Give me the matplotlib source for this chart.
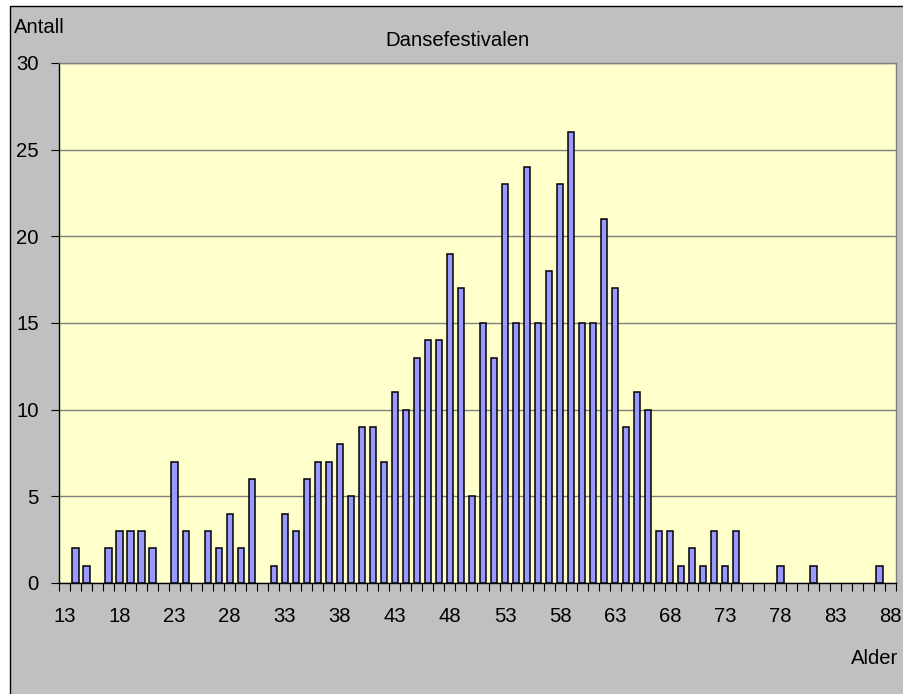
"""Dansefestivalen: antall deltakere per alder (Excel-style column chart)."""

import matplotlib

matplotlib.use("Agg")
import matplotlib.pyplot as plt  # noqa: E402
from matplotlib.patches import Rectangle  # noqa: E402
from matplotlib.ticker import FixedLocator  # noqa: E402

ages = list(range(13, 89))
counts = [
    0, 2, 1, 0, 2, 3, 3, 3, 2, 0,      # 13-22
    7, 3, 0, 3, 2, 4, 2, 6, 0, 1,      # 23-32
    4, 3, 6, 7, 7, 8, 5, 9, 9, 7,      # 33-42
    11, 10, 13, 14, 14, 19, 17, 5, 15, 13,  # 43-52
    23, 15, 24, 15, 18, 23, 26, 15, 15, 21,  # 53-62
    17, 9, 11, 10, 3, 3, 1, 2, 1, 3,   # 63-72
    1, 3, 0, 0, 0, 1, 0, 0, 1, 0,      # 73-82
    0, 0, 0, 0, 1, 0,                  # 83-88
]
label_ages = [13, 18, 23, 28, 33, 38, 43, 48, 53, 58, 63, 68, 73, 78, 83, 88]
y_ticks = [0, 5, 10, 15, 20, 25, 30]

W, H = 904, 694
FS = 14.6

plt.rcParams["font.family"] = ["Liberation Sans", "DejaVu Sans"]

fig = plt.figure(figsize=(W / 100, H / 100), dpi=100, facecolor="white")

# chart area frame (cut off at right and bottom like the source image)
fig.patches.append(
    Rectangle((10 / W, -0.05), 1.2, 1 - 6 / H + 0.05, transform=fig.transFigure,
              facecolor="#C0C0C0", edgecolor="black", linewidth=1.0, zorder=-5)
)

ax = fig.add_axes([59 / W, 1 - 583 / H, (896 - 59) / W, (583 - 63) / H])
ax.set_zorder(2)
ax.set_facecolor("#FFFFCC")

# empty categories get no outline, as in the source
edge_widths = [1.1 if c else 0 for c in counts]
ax.bar(ages, counts, width=0.57, color="#9999FF", edgecolor="black", linewidth=edge_widths, zorder=3)

ax.set_xlim(12.5, 88.5)
ax.set_ylim(0, 30)

ax.set_yticks(y_ticks)
ax.yaxis.grid(True, color="#808080", linewidth=1.0, zorder=1)
ax.set_axisbelow(True)
ax.tick_params(axis="y", direction="out", length=5.5, width=0.8, labelsize=FS, pad=9, colors="black")

ax.set_xticks(label_ages)
ax.set_xticklabels([str(a) for a in label_ages])
ax.xaxis.set_minor_locator(FixedLocator([a - 0.5 for a in ages] + [88.5]))
ax.tick_params(axis="x", which="major", length=0, labelsize=FS, pad=17)
ax.tick_params(axis="x", which="minor", direction="out", length=5.5, width=0.8)

for side in ("top", "right"):
    ax.spines[side].set_color("#808080")
    ax.spines[side].set_linewidth(1.0)
for side in ("left", "bottom"):
    ax.spines[side].set_color("black")
    ax.spines[side].set_linewidth(1.0)

txt = dict(fontsize=FS, zorder=3)
fig.text(14 / W, 1 - 33 / H, "Antall", ha="left", va="baseline", **txt)
fig.text(458 / W, 1 - 46 / H, "Dansefestivalen", ha="center", va="baseline", **txt)
fig.text(898 / W, 1 - 664 / H, "Alder", ha="right", va="baseline", **txt)

fig.savefig("out.png", dpi=100, facecolor=fig.get_facecolor())
